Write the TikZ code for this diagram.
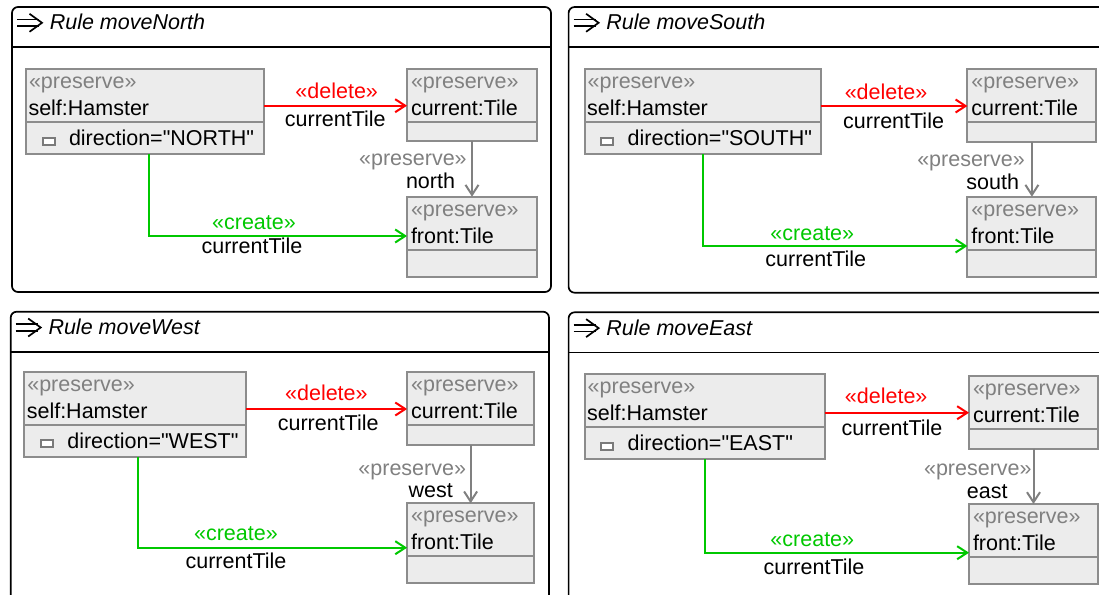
\documentclass[tikz,border=0pt]{standalone}
\usepackage{fontspec}
\setmainfont{Liberation Sans}[Ligatures=TeXOff]
\usetikzlibrary{arrows.meta}

\definecolor{boxfill}{HTML}{ECECEC}
\definecolor{boxline}{HTML}{8C8C8C}
\definecolor{iconline}{HTML}{7A7A7A}
\definecolor{stereogray}{HTML}{808080}
\definecolor{delred}{HTML}{FF0000}
\definecolor{creategreen}{HTML}{00C800}
\definecolor{keepgray}{HTML}{808080}

\tikzset{
  every node/.style={font=\fontsize{21.5pt}{25pt}\selectfont, inner sep=0pt, outer sep=0pt},
  rulepanel/.style={draw=black, line width=1.7pt, rounded corners=6pt, rectangle, anchor=north west},
  ruleline/.style={draw=black, line width=1.7pt},
  ruletitle/.style={anchor=base west, font=\fontsize{21.5pt}{25pt}\selectfont\itshape},
  objbox/.style={draw=boxline, fill=boxfill, line width=2pt, rectangle, anchor=north west},
  objline/.style={draw=boxline, line width=2pt},
  attricon/.style={draw=iconline, fill=white, line width=2pt, rectangle},
  stereo/.style={anchor=base west, text=stereogray},
  objtext/.style={anchor=base west, text=black},
  lbl/.style={anchor=base},
  rlbl/.style={anchor=base east},
  openV/.tip={Straight Barb[length=10pt,width=13pt]},
  deledge/.style={draw=delred, line width=2pt, -openV},
  crtedge/.style={draw=creategreen, line width=2pt, -openV},
  keepedge/.style={draw=keepgray, line width=2pt, -openV},
  ruleicon/.pic={
    \draw[line width=1.7pt] (-12,-3.4) -- (10,-3.4) (-12,3.4) -- (10,3.4);
    \draw[line width=1.7pt] (0.5,-9) -- (13,0) -- (0.5,9);
  },
}

% a rule frame with its title bar
\newcommand\rulepanel[6]{% name, left, top, width, height, title
  \node[rulepanel, minimum width=#4pt, minimum height=#5pt] (#1) at (#2,#3) {};
  \draw[ruleline] ([yshift=-40.3pt]#1.north west) -- ([yshift=-40.3pt]#1.north east);
  \pic at ([xshift=17pt,yshift=-15.8pt]#1.north west) {ruleicon};
  \node[ruletitle] (#1-title) at ([xshift=37.8pt,yshift=-22.8pt]#1.north west) {Rule #6};
}

% a Tile object
\newcommand\tileobject[6]{% name, left, top, width, height, object name
  \node[objbox, minimum width=#4pt, minimum height=#5pt] (#1) at (#2,#3) {};
  \draw[objline] ([yshift=-53pt]#1.north west) -- ([yshift=-53pt]#1.north east);
  \node[stereo] (#1-st) at ([xshift=4pt,yshift=-19.5pt]#1.north west) {«preserve»};
  \node[objtext] (#1-nm) at ([xshift=4pt,yshift=-46.3pt]#1.north west) {#6};
}

% the Hamster object with its direction attribute
\newcommand\hamsterobject[5]{% name, left, top, width, direction value
  \node[objbox, minimum width=#4pt, minimum height=85pt] (#1) at (#2,#3) {};
  \draw[objline] ([yshift=-53pt]#1.north west) -- ([yshift=-53pt]#1.north east);
  \node[stereo] (#1-st) at ([xshift=3pt,yshift=-19.5pt]#1.north west) {«preserve»};
  \node[objtext] (#1-nm) at ([xshift=2.5pt,yshift=-46.5pt]#1.north west) {self:Hamster};
  \node[attricon, minimum width=12pt, minimum height=7pt] (#1-ic) at ([xshift=22.5pt,yshift=-72pt]#1.north west) {};
  \node[objtext] (#1-at) at ([xshift=43pt,yshift=-76.3pt]#1.north west) {direction="#5"};
}

\begin{document}
\begin{tikzpicture}[x=1pt,y=-1pt]
\useasboundingbox (0,0) rectangle (1099,594);
\clip (0,0) rectangle (1099,594);

% ---------------- moveNorth ----------------
\rulepanel{p1}{12}{7}{539}{285}{moveNorth}
\hamsterobject{h1}{26}{69}{238}{NORTH}
\tileobject{c1}{407}{69}{130}{72}{current:Tile}
\tileobject{f1}{407}{196.7}{130}{80}{front:Tile}
\coordinate (d1) at ([yshift=-36.7pt]h1.north east);
\draw[deledge] (d1) -- (d1 -| c1.west);
\draw[keepedge] (c1.south) -- (f1.north);
\coordinate (k1) at ([xshift=123pt]h1.south west);
\draw[crtedge] (k1) |- ([yshift=-39.3pt]f1.north west);
\node[lbl, text=delred] (d1a) at (336.7,98.3) {«delete»};
\node[lbl] (d1b) at (335.3,126) {currentTile};
\node[rlbl, text=stereogray] (e1a) at (466.7,165.5) {«preserve»};
\node[rlbl] (e1b) at (455,188.3) {north};
\node[lbl, text=creategreen] (g1a) at (254,229.5) {«create»};
\node[lbl] (g1b) at (252,253.5) {currentTile};

% ---------------- moveSouth ----------------
\rulepanel{p2}{568.6}{7}{560}{285.7}{moveSouth}
\hamsterobject{h2}{584.7}{69}{236}{SOUTH}
\tileobject{c2}{967.4}{69}{129}{73}{current:Tile}
\tileobject{f2}{967.4}{196.7}{129}{80}{front:Tile}
\coordinate (d2) at ([yshift=-37pt]h2.north east);
\draw[deledge] (d2) -- (d2 -| c2.west);
\draw[keepedge] (c2.south) -- (f2.north);
\coordinate (k2) at ([xshift=118.3pt]h2.south west);
\draw[crtedge] (k2) |- ([yshift=-49.3pt]f2.north west);
\node[lbl, text=delred] (d2a) at (886,99) {«delete»};
\node[lbl] (d2b) at (893.6,128.5) {currentTile};
\node[rlbl, text=stereogray] (e2a) at (1024.8,166) {«preserve»};
\node[rlbl] (e2b) at (1019,189.3) {south};
\node[lbl, text=creategreen] (g2a) at (812.3,240.7) {«create»};
\node[lbl] (g2b) at (815.8,266.7) {currentTile};

% ---------------- moveWest ----------------
\rulepanel{p3}{10.7}{311.7}{538.3}{320}{moveWest}
\hamsterobject{h3}{24.3}{371.7}{222}{WEST}
\tileobject{c3}{407.1}{371.7}{127}{73.3}{current:Tile}
\tileobject{f3}{407.1}{503.3}{127}{80}{front:Tile}
\coordinate (d3) at ([yshift=-37.3pt]h3.north east);
\draw[deledge] (d3) -- (d3 -| c3.west);
\draw[keepedge] (c3.south) -- (f3.north);
\coordinate (k3) at ([xshift=113.6pt]h3.south west);
\draw[crtedge] (k3) |- ([yshift=-44.4pt]f3.north west);
\node[lbl, text=delred] (d3a) at (326.4,400) {«delete»};
\node[lbl] (d3b) at (328.2,430) {currentTile};
\node[rlbl, text=stereogray] (e3a) at (466,475) {«preserve»};
\node[rlbl] (e3b) at (452.9,497.7) {west};
\node[lbl, text=creategreen] (g3a) at (235.9,540) {«create»};
\node[lbl] (g3b) at (236,568.3) {currentTile};

% ---------------- moveEast ----------------
\rulepanel{p4}{568.6}{312.3}{560}{320}{moveEast}
\hamsterobject{h4}{584.7}{374}{240}{EAST}
\tileobject{c4}{969}{376}{129}{72.7}{current:Tile}
\tileobject{f4}{969}{504}{129}{80}{front:Tile}
\coordinate (d4) at ([yshift=-38.7pt]h4.north east);
\draw[deledge] (d4) -- (d4 -| c4.west);
\draw[keepedge] (c4.south) -- (f4.north);
\coordinate (k4) at ([xshift=120.6pt]h4.south west);
\draw[crtedge] (k4) |- ([yshift=-48.7pt]f4.north west);
\node[lbl, text=delred] (d4a) at (886.2,403.3) {«delete»};
\node[lbl] (d4b) at (892,435.7) {currentTile};
\node[rlbl, text=stereogray] (e4a) at (1031.6,475) {«preserve»};
\node[rlbl] (e4b) at (1007.6,498.3) {east};
\node[lbl, text=creategreen] (g4a) at (812.3,546) {«create»};
\node[lbl] (g4b) at (814,574) {currentTile};
\end{tikzpicture}
\end{document}
